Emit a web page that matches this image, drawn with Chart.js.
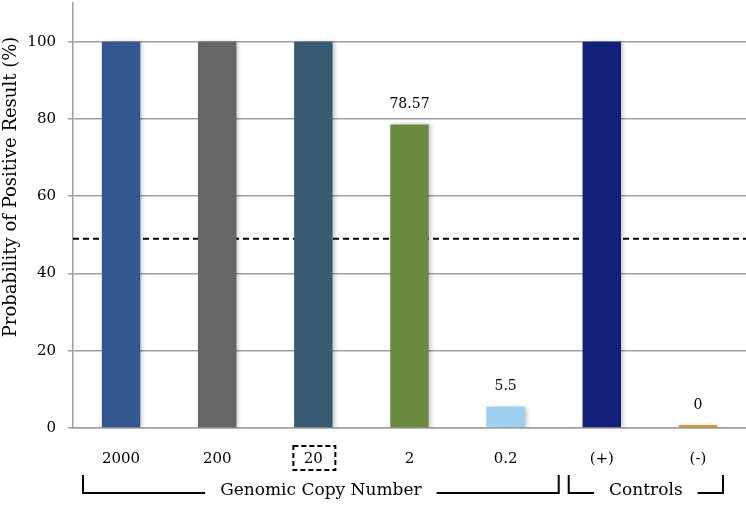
<!DOCTYPE html>
<html>
<head>
<meta charset="utf-8">
<script src="https://cdn.jsdelivr.net/npm/chart.js@4.4.1/dist/chart.umd.min.js"></script>
<style>
  body { margin: 0; background: #fff; }
  #wrap { width: 746px; height: 506px; }
</style>
</head>
<body>
<div id="wrap"><canvas id="mycanvas" width="746" height="506"></canvas></div>
<script>
// values
var categories = ['2000', '200', '20', '2', '0.2', '(+)', '(-)'];
var probability = [100, 100, 100, 78.57, 5.5, 100, 0];
var valueLabels = ['', '', '', '78.57', '5.5', '', '0'];
var barColors = ['#34578f', '#666666', '#385b73', '#6c8a3f', '#9fd0f0', '#122079', '#d4992f'];
var yTicks = [0, 20, 40, 60, 80, 100];
var threshold = 49;
var groups = [
    { label: 'Genomic Copy Number', from: 0, to: 4 },
    { label: 'Controls', from: 5, to: 6 }
];
var boxedCategory = 2;
var yTitle = 'Probability of Positive Result (%)';

var serif = "'DejaVu Serif', 'Liberation Serif', serif";
Chart.defaults.font.family = serif;
Chart.defaults.color = '#000';

// bar shadow, threshold line, value labels, bracket annotations
var extras = {
    id: 'extras',
    beforeDatasetsDraw: function (chart) {
        var ctx = chart.ctx, area = chart.chartArea;
        var y = chart.scales.y.getPixelForValue(threshold);
        ctx.save();
        ctx.strokeStyle = '#000';
        ctx.lineWidth = 2;
        ctx.setLineDash([6, 4]);
        ctx.beginPath();
        ctx.moveTo(area.left, y);
        ctx.lineTo(area.right, y);
        ctx.stroke();
        ctx.restore();
    },
    beforeDatasetDraw: function (chart) {
        var ctx = chart.ctx;
        ctx.save();
        ctx.shadowColor = 'rgba(0,0,0,0.22)';
        ctx.shadowBlur = 4;
        ctx.shadowOffsetX = 2;
    },
    afterDatasetDraw: function (chart) {
        chart.ctx.restore();
    },
    afterDatasetsDraw: function (chart) {
        var ctx = chart.ctx;
        var meta = chart.getDatasetMeta(0);
        var x = chart.scales.x;
        var step = x.getPixelForValue(1) - x.getPixelForValue(0);

        ctx.save();
        ctx.fillStyle = '#000';
        ctx.textAlign = 'center';
        ctx.textBaseline = 'middle';
        ctx.font = '14px ' + serif;
        meta.data.forEach(function (bar, i) {
            if (valueLabels[i]) ctx.fillText(valueLabels[i], bar.x, bar.y - 20);
        });

        // y axis title
        ctx.save();
        ctx.font = '18px ' + serif;
        ctx.translate(11, 187);
        ctx.rotate(-Math.PI / 2);
        ctx.fillText(yTitle, 0, 0);
        ctx.restore();

        // dashed box round one tick label
        var bx = x.getPixelForValue(boxedCategory);
        ctx.strokeStyle = '#000';
        ctx.lineWidth = 2;
        ctx.setLineDash([5, 3]);
        ctx.strokeRect(bx - 20, 446, 42, 24);
        ctx.setLineDash([]);

        // group brackets
        var yLine = 493, yTop = 475;
        ctx.font = '17px ' + serif;
        groups.forEach(function (g, k) {
            var left = x.getPixelForValue(g.from) - step / 2 + (k === 0 ? 10 : 15);
            var right = x.getPixelForValue(g.to) + step / 2 + (k === 0 ? 5 : -23);
            var mid = (left + right) / 2;
            var half = ctx.measureText(g.label).width / 2 + 15;
            ctx.beginPath();
            ctx.moveTo(left, yTop);
            ctx.lineTo(left, yLine);
            ctx.lineTo(mid - half, yLine);
            ctx.moveTo(mid + half, yLine);
            ctx.lineTo(right, yLine);
            ctx.lineTo(right, yTop);
            ctx.stroke();
            ctx.fillText(g.label, mid, yLine - 2);
        });
        ctx.restore();
    }
};

var ctx = document.getElementById('mycanvas');
var barGraph = new Chart(ctx, {
    type: 'bar',
    data: {
        labels: categories,
        datasets: [{
            data: probability,
            backgroundColor: barColors,
            borderWidth: 0,
            minBarLength: 3,
            categoryPercentage: 0.4,
            barPercentage: 1
        }]
    },
    options: {
        responsive: false,
        animation: false,
        layout: { padding: { top: 3, right: 0, left: 0, bottom: 0 } },
        plugins: { legend: { display: false }, tooltip: { enabled: false } },
        scales: {
            x: {
                grid: { display: false, drawTicks: false },
                border: { display: true, color: '#a0a0a0', width: 1.5 },
                ticks: { padding: 22, font: { size: 15 }, color: '#000' },
                afterFit: function (s) { s.height = 78; }
            },
            y: {
                min: 0,
                max: 110,
                afterBuildTicks: function (s) {
                    s.ticks = yTicks.map(function (v) { return { value: v }; });
                },
                grid: { color: '#a0a0a0', lineWidth: 1.5, tickLength: 5 },
                border: { display: true, color: '#a0a0a0', width: 1.5 },
                ticks: { padding: 12, font: { size: 15 }, color: '#000' },
                afterFit: function (s) {
                    s.width = 73;
                    s.paddingTop = 0;
                    s.paddingBottom = 0;
                }
            }
        }
    },
    plugins: [extras]
});
</script>
</body>
</html>
